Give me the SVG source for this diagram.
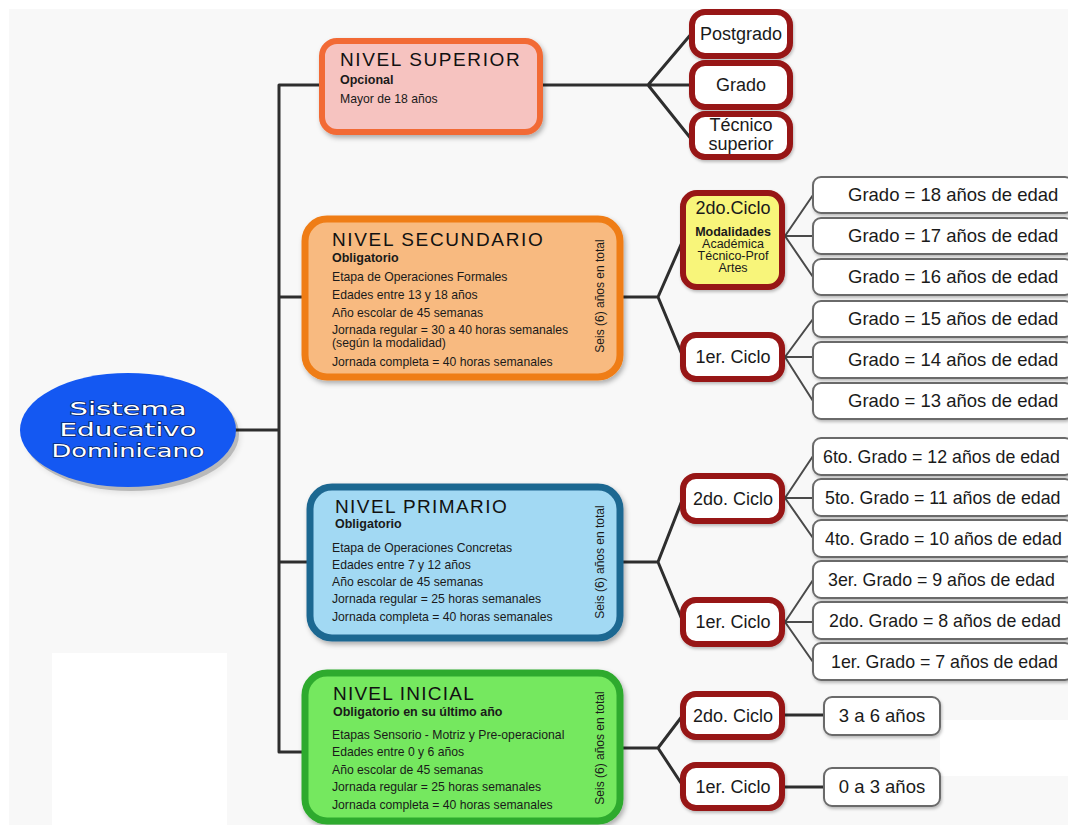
<svg xmlns="http://www.w3.org/2000/svg" width="1068" height="825" viewBox="0 0 1068 825">
<defs>
<filter id="sh" x="-10%" y="-10%" width="125%" height="130%">
<feDropShadow dx="2" dy="3" stdDeviation="2.5" flood-color="#000" flood-opacity="0.3"/>
</filter>
<filter id="sh2" x="-10%" y="-10%" width="125%" height="130%">
<feDropShadow dx="1" dy="2" stdDeviation="1.5" flood-color="#000" flood-opacity="0.25"/>
</filter>
<style>
.conn{stroke:#2e2e2e;stroke-width:3;fill:none;stroke-linecap:round}
.thin{stroke:#4a4a4a;stroke-width:2;fill:none;stroke-linecap:round}
.ciclo{fill:#fff;stroke:#971414;stroke-width:6}
.grade{fill:#fff;stroke:#6b6b6b;stroke-width:2}
.t{font-family:"Liberation Sans",Arial,sans-serif;fill:#1a1a1a}
.title{font-family:"Liberation Sans",Arial,sans-serif;font-size:19px;fill:#111;letter-spacing:0.3px}
.sub{font-family:"Liberation Sans",Arial,sans-serif;font-size:12.5px;font-weight:bold;fill:#1a1a1a}
.body{font-family:"Liberation Sans",Arial,sans-serif;font-size:12.2px;fill:#1a1a1a}
.vert{font-family:"Liberation Sans",Arial,sans-serif;font-size:12px;fill:#1a1a1a}
.big{font-family:"Liberation Sans",Arial,sans-serif;font-size:18px;fill:#1a1a1a}
.gr{font-family:"Liberation Sans",Arial,sans-serif;font-size:18.5px;fill:#1a1a1a}
.gp{font-family:"Liberation Sans",Arial,sans-serif;font-size:17.8px;fill:#1a1a1a}
</style>
</defs>
<rect x="0" y="0" width="1068" height="825" fill="#ffffff"/>
<rect x="9" y="9" width="1059" height="816" fill="#f8f8f8"/>
<rect x="52" y="653" width="175" height="172" fill="#ffffff"/>
<rect x="940" y="720" width="128" height="56" fill="#ffffff"/>

<g id="connectors">
<path class="conn" d="M235 430 H279 M279 85 V752 M279 85 H322 M279 297 H305 M279 562 H310 M279 752 H305"/>
<path class="conn" d="M540 85 H648 M648 85 L692 33 M648 85 H692 M648 85 L692 140"/>
<path class="conn" d="M620 297 H658 M658 297 L683 240 M658 297 L683 357"/>
<path class="conn" d="M620 562 H658 M658 562 L683 498 M658 562 L683 622"/>
<path class="conn" d="M620 748 H658 M658 748 L683 715 M658 748 L683 786"/>
<path class="thin" d="M785 236 L813 195 M785 236 H813 M785 236 L813 277"/>
<path class="thin" d="M785 357 L813 319 M785 357 H813 M785 357 L813 401"/>
<path class="thin" d="M785 498 L813 456 M785 498 H813 M785 498 L813 538"/>
<path class="thin" d="M785 622 L813 580 M785 622 H813 M785 622 L813 662"/>
<path class="conn" d="M782 715 H824 M782 787 H824"/>
</g>

<g id="root">
<ellipse cx="131" cy="434" rx="108" ry="57" fill="#000" opacity="0.25" filter="url(#sh)"/>
<ellipse cx="128" cy="430" rx="108" ry="57" fill="#1458f2"/>
<g font-family="'DejaVu Sans',sans-serif" font-size="18" fill="#fff" stroke="#0a2a70" stroke-width="1.4" paint-order="stroke" text-anchor="middle">
<text x="128" y="415" textLength="117" lengthAdjust="spacingAndGlyphs">Sistema</text>
<text x="128" y="436" textLength="137" lengthAdjust="spacingAndGlyphs">Educativo</text>
<text x="128" y="457" textLength="153" lengthAdjust="spacingAndGlyphs">Dominicano</text>
</g>
</g>

<g id="superior">
<rect x="322" y="41" width="218" height="91" rx="15" fill="#f6c3c0" stroke="#f26a35" stroke-width="6" filter="url(#sh)"/>
<text class="title" x="340" y="66" textLength="180">NIVEL SUPERIOR</text>
<text class="sub" x="340" y="84">Opcional</text>
<text class="body" x="340" y="103">Mayor de 18 años</text>
</g>

<g id="postgrado"><rect class="ciclo" x="692" y="12" width="98" height="44" rx="13" filter="url(#sh2)"/><text class="big" x="741" y="40" text-anchor="middle">Postgrado</text></g>
<g id="grado"><rect class="ciclo" x="692" y="63" width="98" height="44" rx="13" filter="url(#sh2)"/><text class="big" x="741" y="91" text-anchor="middle">Grado</text></g>
<g id="tecnico"><rect class="ciclo" x="692" y="114" width="98" height="43" rx="13" filter="url(#sh2)"/><text class="big" x="741" y="131" text-anchor="middle">Técnico</text><text class="big" x="741" y="150" text-anchor="middle">superior</text></g>

<g id="secundario">
<rect x="305" y="219" width="315" height="158" rx="22" fill="#f8ba80" stroke="#ef7d15" stroke-width="7" filter="url(#sh)"/>
<text class="title" x="332" y="246" textLength="211">NIVEL SECUNDARIO</text>
<text class="sub" x="332" y="262">Obligatorio</text>
<text class="body" x="332" y="281">Etapa de Operaciones Formales</text>
<text class="body" x="332" y="299">Edades entre 13 y 18 años</text>
<text class="body" x="332" y="317">Año escolar de 45 semanas</text>
<text class="body" x="332" y="334">Jornada regular = 30 a 40 horas semanales</text>
<text class="body" x="332" y="347">(según la modalidad)</text>
<text class="body" x="332" y="366">Jornada completa = 40 horas semanales</text>
<text class="vert" transform="translate(604 296) rotate(-90)" text-anchor="middle">Seis (6) años en total</text>
</g>

<g id="sec-2do">
<rect x="683" y="193" width="99" height="94" rx="14" fill="#f8f57a" stroke="#971414" stroke-width="6" filter="url(#sh2)"/>
<text class="big" x="733" y="214" text-anchor="middle" font-size="17">2do.Ciclo</text>
<text class="t" x="733" y="236" text-anchor="middle" font-size="12.5" font-weight="bold">Modalidades</text>
<text class="t" x="733" y="248" text-anchor="middle" font-size="12.5">Académica</text>
<text class="t" x="733" y="260" text-anchor="middle" font-size="12.5">Técnico-Prof</text>
<text class="t" x="733" y="272" text-anchor="middle" font-size="12.5">Artes</text>
</g>
<g id="sec-1er"><rect class="ciclo" x="683" y="335" width="99" height="44" rx="13" filter="url(#sh2)"/><text class="big" x="733" y="363" text-anchor="middle">1er. Ciclo</text></g>

<g id="sec-g18"><rect class="grade" x="813" y="177" width="260" height="36" rx="8" filter="url(#sh2)"/><text class="gr" x="848" y="201">Grado = 18 años de edad</text></g>
<g id="sec-g17"><rect class="grade" x="813" y="218" width="260" height="36" rx="8" filter="url(#sh2)"/><text class="gr" x="848" y="242">Grado = 17 años de edad</text></g>
<g id="sec-g16"><rect class="grade" x="813" y="259" width="260" height="36" rx="8" filter="url(#sh2)"/><text class="gr" x="848" y="283">Grado = 16 años de edad</text></g>
<g id="sec-g15"><rect class="grade" x="813" y="301" width="260" height="36" rx="8" filter="url(#sh2)"/><text class="gr" x="848" y="325">Grado = 15 años de edad</text></g>
<g id="sec-g14"><rect class="grade" x="813" y="342" width="260" height="36" rx="8" filter="url(#sh2)"/><text class="gr" x="848" y="366">Grado = 14 años de edad</text></g>
<g id="sec-g13"><rect class="grade" x="813" y="383" width="260" height="36" rx="8" filter="url(#sh2)"/><text class="gr" x="848" y="407">Grado = 13 años de edad</text></g>

<g id="primario">
<rect x="310" y="487" width="310" height="151" rx="22" fill="#a2d9f3" stroke="#1f6791" stroke-width="7" filter="url(#sh)"/>
<text class="title" x="335" y="513" textLength="172">NIVEL PRIMARIO</text>
<text class="sub" x="335" y="528">Obligatorio</text>
<text class="body" x="332" y="552">Etapa de Operaciones Concretas</text>
<text class="body" x="332" y="569">Edades entre 7 y 12 años</text>
<text class="body" x="332" y="586">Año escolar de 45 semanas</text>
<text class="body" x="332" y="603">Jornada regular = 25 horas semanales</text>
<text class="body" x="332" y="621">Jornada completa = 40 horas semanales</text>
<text class="vert" transform="translate(604 562) rotate(-90)" text-anchor="middle">Seis (6) años en total</text>
</g>

<g id="pri-2do"><rect class="ciclo" x="683" y="476" width="99" height="45" rx="13" filter="url(#sh2)"/><text class="big" x="733" y="505" text-anchor="middle">2do. Ciclo</text></g>
<g id="pri-1er"><rect class="ciclo" x="683" y="600" width="99" height="44" rx="13" filter="url(#sh2)"/><text class="big" x="733" y="628" text-anchor="middle">1er. Ciclo</text></g>

<g id="pri-g6"><rect class="grade" x="813" y="438" width="260" height="37" rx="8" filter="url(#sh2)"/><text class="gp" x="823" y="463">6to. Grado = 12 años de edad</text></g>
<g id="pri-g5"><rect class="grade" x="813" y="479" width="260" height="37" rx="8" filter="url(#sh2)"/><text class="gp" x="825" y="504">5to. Grado = 11 años de edad</text></g>
<g id="pri-g4"><rect class="grade" x="813" y="520" width="260" height="37" rx="8" filter="url(#sh2)"/><text class="gp" x="825" y="545">4to. Grado = 10 años de edad</text></g>
<g id="pri-g3"><rect class="grade" x="813" y="561" width="260" height="37" rx="8" filter="url(#sh2)"/><text class="gp" x="828" y="586">3er. Grado = 9 años de edad</text></g>
<g id="pri-g2"><rect class="grade" x="813" y="602" width="260" height="37" rx="8" filter="url(#sh2)"/><text class="gp" x="829" y="627">2do. Grado = 8 años de edad</text></g>
<g id="pri-g1"><rect class="grade" x="813" y="643" width="260" height="37" rx="8" filter="url(#sh2)"/><text class="gp" x="831" y="668">1er. Grado = 7 años de edad</text></g>

<g id="inicial">
<rect x="305" y="673" width="315" height="148" rx="22" fill="#75e85f" stroke="#2eaa2e" stroke-width="7" filter="url(#sh)"/>
<text class="title" x="333" y="700" textLength="141">NIVEL INICIAL</text>
<text class="sub" x="333" y="716">Obligatorio en su último año</text>
<text class="body" x="332" y="739">Etapas Sensorio - Motriz y Pre-operacional</text>
<text class="body" x="332" y="756">Edades entre 0 y 6 años</text>
<text class="body" x="332" y="774">Año escolar de 45 semanas</text>
<text class="body" x="332" y="791">Jornada regular = 25 horas semanales</text>
<text class="body" x="332" y="809">Jornada completa = 40 horas semanales</text>
<text class="vert" transform="translate(604 748) rotate(-90)" text-anchor="middle">Seis (6) años en total</text>
</g>

<g id="ini-2do"><rect class="ciclo" x="683" y="694" width="99" height="43" rx="13" filter="url(#sh2)"/><text class="big" x="733" y="722" text-anchor="middle">2do. Ciclo</text></g>
<g id="ini-1er"><rect class="ciclo" x="683" y="765" width="99" height="43" rx="13" filter="url(#sh2)"/><text class="big" x="733" y="793" text-anchor="middle">1er. Ciclo</text></g>
<g id="ini-36"><rect class="grade" x="824" y="697" width="116" height="38" rx="8" filter="url(#sh2)"/><text class="gr" x="882" y="722" text-anchor="middle">3 a 6 años</text></g>
<g id="ini-03"><rect class="grade" x="824" y="768" width="116" height="38" rx="8" filter="url(#sh2)"/><text class="gr" x="882" y="793" text-anchor="middle">0 a 3 años</text></g>
</svg>
